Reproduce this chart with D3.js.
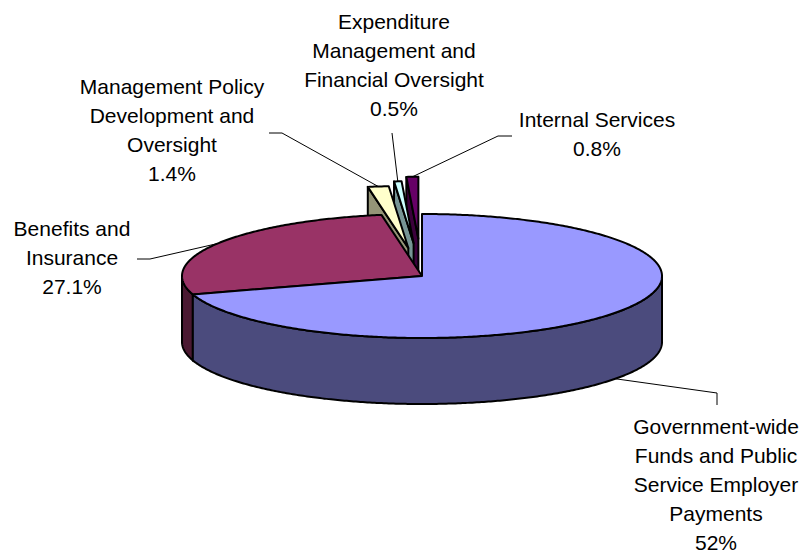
<!DOCTYPE html>
<html>
<head>
<meta charset="utf-8">
<script src="https://cdn.jsdelivr.net/npm/d3@7"></script>
<style>
  body { margin: 0; background: #fff; }
  svg { display: block; }
  text { font-family: Arial, 'Liberation Sans', sans-serif; font-size: 21px; fill: #000; }
</style>
</head>
<body>
<div id="chart"></div>
<script>
// slice data, clockwise from 12 o'clock
const categories = [
  'Government-wide Funds and Public Service Employer Payments',
  'Benefits and Insurance',
  'Management Policy Development and Oversight',
  'Expenditure Management and Financial Oversight',
  'Internal Services'
]
// label text as it is wrapped on the chart
const labelLines = [
  ['Government-wide', 'Funds and Public', 'Service Employer', 'Payments'],
  ['Benefits and', 'Insurance'],
  ['Management Policy', 'Development and', 'Oversight'],
  ['Expenditure', 'Management and', 'Financial Oversight'],
  ['Internal Services']
]
// slice sizes as drawn (the big slice is drawn larger than its printed 52%)
const shares = [70.2, 27.1, 1.4, 0.5, 0.8]
const shareLabels = ['52%', '27.1%', '1.4%', '0.5%', '0.8%']

const colors = ['#9999FF', '#993366', '#FFFFCC', '#CCFFFF', '#660066']
const explode = [0, 0, 0.455, 0.53, 0.6]

// label placement: centre x, first line y, and leader elbow points
const labelPos = [
  { x: 716, y: 427, leader: [[717, 405], [717, 393]] },
  { x: 72, y: 229, leader: [[137, 259], [150, 259]] },
  { x: 172, y: 87, leader: [[269, 133], [282, 133]] },
  { x: 394, y: 22, leader: [[392, 133]] },
  { x: 597, y: 120, leader: [[512, 136], [498, 136]] }
]
const lineGap = 29

const width = 806
const height = 554
const cx = 422, cy = 276, rx = 240, ry = 62, depth = 66

const svg = d3.select('#chart').append('svg')
  .attr('width', width)
  .attr('height', height)

// unit circle -> screen (ellipse seen from above)
const x = d3.scaleLinear().domain([-1, 1]).range([cx - rx, cx + rx])
const y = d3.scaleLinear().domain([-1, 1]).range([cy + ry, cy - ry])

const pie = d3.pie().sort(null).value(d => d)
const arcs = pie(shares).map((a, i) => {
  const mid = (a.startAngle + a.endAngle) / 2
  const e = explode[i]
  return {
    i: i,
    s: a.startAngle,
    e: a.endAngle,
    mid: mid,
    ox: x(e * Math.sin(mid)) - x(0),
    oy: y(e * Math.cos(mid)) - y(0)
  }
})

const pt = (a, t, f, h) => [x(f * Math.sin(t)) + a.ox, y(f * Math.cos(t)) + a.oy + h]

const rim = (a, t0, t1, h) => {
  const n = Math.max(2, Math.ceil(Math.abs(t1 - t0) / 0.01))
  return d3.range(n + 1).map(k => pt(a, t0 + (t1 - t0) * k / n, 1, h))
}

const line = d3.line()
const shade = (c, k) => d3.color(c).darker(k).formatHex()

const backToFront = arcs.slice().sort((a, b) => pt(a, a.mid, 0.5, 0)[1] - pt(b, b.mid, 0.5, 0)[1])

const g = svg.append('g')
  .attr('stroke', '#000')
  .attr('stroke-width', 2)
  .attr('stroke-linejoin', 'round')

// radial cut faces
backToFront.forEach(a => {
  const faces = []
  if (Math.sin(a.s) < -1e-6) faces.push(a.s)
  if (Math.sin(a.e) > 1e-6) faces.push(a.e)
  faces.forEach(t => {
    g.append('path')
      .attr('d', line([pt(a, t, 0, 0), pt(a, t, 1, 0), pt(a, t, 1, depth), pt(a, t, 0, depth)]) + 'Z')
      .attr('fill', shade(colors[a.i], 1.5))
  })
})

// outer walls (front half only)
backToFront.forEach(a => {
  const t0 = Math.max(a.s, Math.PI / 2)
  const t1 = Math.min(a.e, Math.PI * 1.5)
  if (t1 <= t0) return
  const pts = rim(a, t0, t1, 0).concat(rim(a, t1, t0, depth))
  g.append('path')
    .attr('d', line(pts) + 'Z')
    .attr('fill', shade(colors[a.i], 2))
})

// top faces
backToFront.forEach(a => {
  const pts = [pt(a, 0, 0, 0)].concat(rim(a, a.s, a.e, 0))
  g.append('path')
    .attr('d', line(pts) + 'Z')
    .attr('fill', colors[a.i])
})

// leader lines
arcs.forEach(a => {
  const front = Math.cos(a.mid) < 0
  const end = pt(a, a.mid, 1, front ? depth : 0)
  svg.append('path')
    .attr('d', line(labelPos[a.i].leader.concat([end])))
    .attr('fill', 'none')
    .attr('stroke', '#000')
    .attr('stroke-width', 1)
})

// labels
arcs.forEach(a => {
  const p = labelPos[a.i]
  const lines = labelLines[a.i].concat([shareLabels[a.i]])
  const t = svg.append('text')
    .attr('text-anchor', 'middle')
  t.selectAll('tspan')
    .data(lines)
    .enter()
    .append('tspan')
    .attr('x', p.x)
    .attr('y', (d, k) => p.y + k * lineGap)
    .attr('dy', '0.35em')
    .text(d => d)
})
</script>
</body>
</html>
